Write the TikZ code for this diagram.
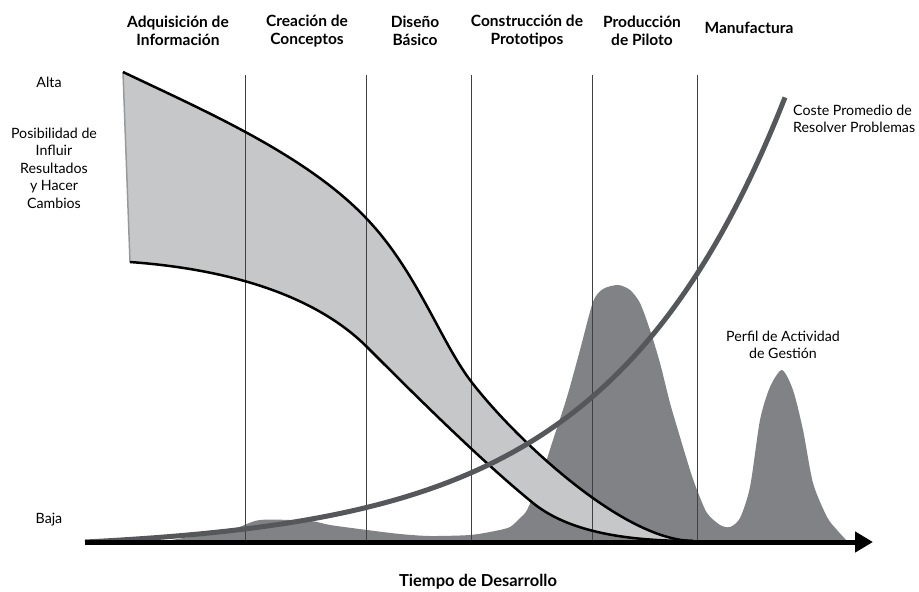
\documentclass[tikz,border=0pt]{standalone}
\usepackage{fontspec}
\setmainfont{Lato}
\usetikzlibrary{arrows.meta}
\begin{document}
\begin{tikzpicture}[x=1pt, y=-1pt,
  fase/.style={font=\bfseries\fontsize{15.5}{18}\selectfont, align=center, inner sep=0pt},
  rotulo/.style={font=\fontsize{14.2}{17.5}\selectfont, align=center, inner sep=0pt},
  borde/.style={line width=2.5pt, black},
  division/.style={line width=0.9pt, black!75}]
\useasboundingbox (0,0) rectangle (919,592);
\definecolor{banda}{HTML}{C6C7C9}
\definecolor{perfil}{HTML}{808285}
\definecolor{coste}{HTML}{56575A}
\fill[perfil] plot[smooth, tension=0.45] coordinates {(165,541) (230,530) (260,520) (310,521) (330,525) (367,530) (400,534) (430,536) (470,535) (495,531) (510,527) (520,518) (527,510) (540,480) (553,440) (567,397) (580,350) (593,302) (603,289) (618,285) (630,290) (640,303) (650,330) (660,363) (670,403) (680,437) (690,470) (697,490) (707,513) (720,525) (730,527) (740,518) (750,487) (760,420) (770,387) (782,370) (793,390) (803,430) (813,483) (827,517) (837,530) (847,541)} -- cycle;
\fill[banda] (123,72) .. controls (205,111) and (306,155) .. (366,218) .. controls (416,270) and (440,340) .. (470,380) .. controls (510,433) and (620,540) .. (693,541) .. controls (630,541) and (570,533) .. (533,503) .. controls (480,460) and (412,392) .. (367,347) .. controls (320,300) and (240,270) .. (130,262) -- cycle;
\draw[line width=1.5pt, black!40] (123,72) -- (130,262);
\foreach \x in {245,366,471,592,697}
  \draw[division] (\x,75) -- (\x,542);
\draw[borde] (123,72) .. controls (205,111) and (306,155) .. (366,218) .. controls (416,270) and (440,340) .. (470,380) .. controls (510,433) and (620,540) .. (693,541);
\draw[borde] (130,262) .. controls (240,270) and (320,300) .. (367,347) .. controls (412,392) and (480,460) .. (533,503) .. controls (570,533) and (630,541) .. (693,541);
\draw[coste, line width=5pt] plot[domain=85:785, samples=90, smooth] (\x, {542-9*(exp(0.0056*(\x-85))-1)});
\coordinate (ejeA) at (85,542);
\coordinate (ejeB) at (873,542);
\draw[line width=5pt, -{Triangle[length=18pt, width=20pt]}] (ejeA) -- (ejeB);
\node[fase] (adq) at (178,31) {Adquisición de\\Información};
\node[fase] (cre) at (307,31) {Creación de\\Conceptos};
\node[fase] (dis) at (415,31) {Diseño\\Básico};
\node[fase] (con) at (527,31) {Construcción de\\Prototipos};
\node[fase] (pro) at (642,31) {Producción\\de Piloto};
\node[fase] (man) at (749,28) {Manufactura};
\node[rotulo] (alta) at (49,82) {Alta};
\node[rotulo] (posib) at (54,168) {Posibilidad de\\Influir\\Resultados\\y Hacer\\Cambios};
\node[rotulo] (baja) at (49,520) {Baja};
\node[fase, font=\bfseries\fontsize{16.5}{18}\selectfont] (tiempo) at (478,582) {Tiempo de Desarrollo};
\node[rotulo, align=left, anchor=west] (costeR) at (793,119) {Coste Promedio de\\Resolver Problemas};
\node[rotulo] (perfilR) at (783,345) {Perfil de Actividad\\de Gestión};
\end{tikzpicture}
\end{document}
